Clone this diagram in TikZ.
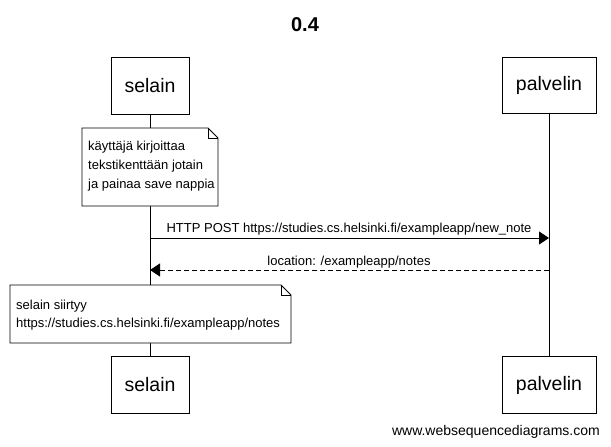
\documentclass[tikz,border=0pt]{standalone}
\usepackage{fontspec}
\setmainfont{Liberation Sans}
\usetikzlibrary{arrows.meta}
\begin{document}
\begin{tikzpicture}[x=1pt,y=-1pt,
  actor/.style={draw=black,fill=white,line width=0.9pt,inner sep=0pt,font=\fontsize{19.5}{22}\selectfont},
  notebox/.style={inner sep=0pt,anchor=north west},
  notetext/.style={align=left,anchor=north west,inner sep=0pt,font=\fontsize{13}{19}\selectfont},
  msg/.style={font=\fontsize{13}{15}\selectfont,inner sep=0pt},
  life/.style={line width=0.9pt},
  sync/.style={line width=0.9pt,-{Triangle[length=10pt,width=13pt]}},
  reply/.style={line width=0.9pt,dash pattern=on 5pt off 3pt,-{Triangle[length=10pt,width=13pt]}}
]
\useasboundingbox (0,0) rectangle (611,447);
\fill[white] (0,0) rectangle (611,447);

% title
\node[font=\bfseries\fontsize{20}{24}\selectfont] (title) at (305,25) {0.4};

% actors
\node[actor,minimum width=78pt,minimum height=57pt] (s1) at (150,85.5) {selain};
\node[actor,minimum width=94pt,minimum height=56pt] (p1) at (549,85) {palvelin};
\node[actor,minimum width=78pt,minimum height=57pt] (s2) at (150,385) {selain};
\node[actor,minimum width=94pt,minimum height=57pt] (p2) at (549,385) {palvelin};

% lifelines
\draw[life] (s1.south) -- (s2.north);
\draw[life] (p1.south) -- (p2.north);

% note 1
\coordinate (n1a) at (82,128);
\coordinate (n1b) at (218,206);
\filldraw[fill=white,line width=0.9pt] (n1a) -- (208,128) -- (218,138) -- (218,206) -- (82,206) -- cycle;
\draw[line width=0.6pt] (208,128) -- (208,138) -- (218,138);
\node[notetext] (n1) at (88,141) {käyttäjä kirjoittaa\\tekstikenttään jotain\\ja painaa save nappia};

% messages
\coordinate (m1s) at (150,238);
\coordinate (m1e) at (549,238);
\draw[sync] (m1s) -- (m1e);
\node[msg] (l1) at (349,229) {HTTP POST https://studies.cs.helsinki.fi/exampleapp/new\_note};

\coordinate (m2s) at (549,270);
\coordinate (m2e) at (150,270);
\draw[reply] (m2s) -- (m2e);
\node[msg] (l2) at (349,262) {location: /exampleapp/notes};

% note 2
\filldraw[fill=white,line width=0.9pt] (10,285) -- (281,285) -- (291,295) -- (291,343) -- (10,343) -- cycle;
\draw[line width=0.6pt] (281,285) -- (281,295) -- (291,295);
\node[notetext,font=\fontsize{13}{18}\selectfont] (n2) at (16,300) {selain siirtyy\\https://studies.cs.helsinki.fi/exampleapp/notes};

% footer
\node[anchor=east,font=\fontsize{14}{16}\selectfont,inner sep=0pt] (foot) at (600,432) {www.websequencediagrams.com};
\end{tikzpicture}
\end{document}
